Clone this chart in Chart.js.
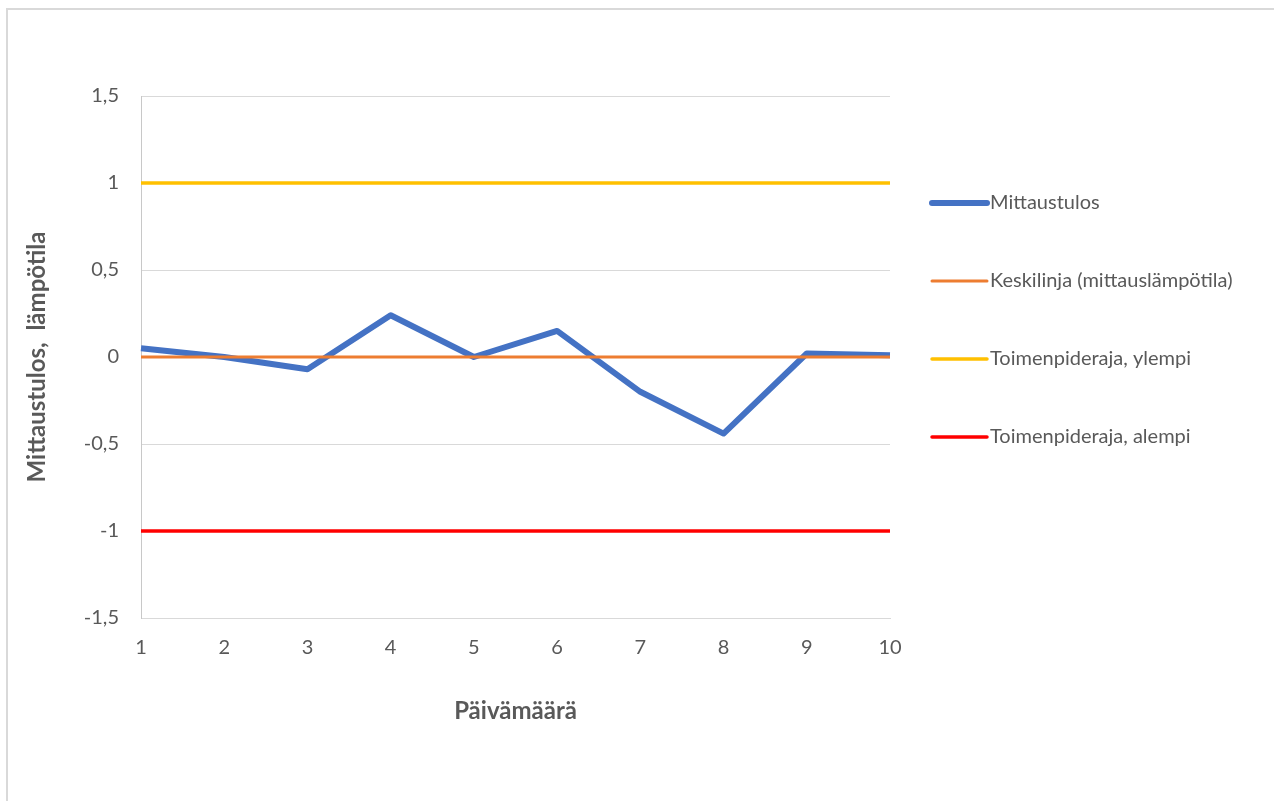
<!DOCTYPE html>
<html>
<head>
<meta charset="utf-8">
<title>Mittaustulos</title>
<script src="https://cdn.jsdelivr.net/npm/chart.js@4.4.0/dist/chart.umd.min.js"></script>
<style>
  html, body { margin: 0; padding: 0; background: #ffffff; }
  #frame {
    position: absolute; left: 6px; top: 8px; width: 1268px; height: 793px;
    border-top: 2px solid #d9d9d9; border-left: 2px solid #d9d9d9; box-sizing: border-box;
  }
  #wrap { position: absolute; left: 0; top: 0; width: 1274px; height: 801px; }
</style>
</head>
<body>
<div id="frame"></div>
<div id="wrap"><canvas id="chart"></canvas></div>
<script>
// Päivät (x-akseli)
const days = ['1', '2', '3', '4', '5', '6', '7', '8', '9', '10'];

// Sarjat
const mittaustulos = [0.05, 0.0, -0.07, 0.24, 0.0, 0.15, -0.2, -0.44, 0.02, 0.01];
const keskilinja   = [0, 0, 0, 0, 0, 0, 0, 0, 0, 0];
const ylempiRaja   = [1, 1, 1, 1, 1, 1, 1, 1, 1, 1];
const alempiRaja   = [-1, -1, -1, -1, -1, -1, -1, -1, -1, -1];

// Y-akselin tekstit (pilkku desimaalierottimena)
const yTickLabels = ['-1,5', '-1', '-0,5', '0', '0,5', '1', '1,5'];

const TEXT = '#595959';
const FONT = 'Lato, "Liberation Sans", sans-serif';

// Selite piirretään itse: viivanäyte + teksti allekkain oikealla
const sideLegend = {
  id: 'sideLegend',
  afterDraw(chart, args, opts) {
    const ctx = chart.ctx;
    ctx.save();
    chart.data.datasets.forEach((ds, i) => {
      const y = opts.top + i * opts.spacing;
      ctx.beginPath();
      ctx.strokeStyle = ds.borderColor;
      ctx.lineWidth = ds.borderWidth;
      ctx.lineCap = 'round';
      ctx.moveTo(opts.left, y);
      ctx.lineTo(opts.left + opts.length, y);
      ctx.stroke();
      ctx.fillStyle = TEXT;
      ctx.font = opts.fontSize + 'px ' + FONT;
      ctx.textBaseline = 'middle';
      ctx.textAlign = 'left';
      ctx.fillText(ds.label, opts.left + opts.length + opts.gap, y);
    });
    ctx.restore();
  }
};

new Chart(document.getElementById('chart'), {
  type: 'line',
  data: {
    labels: days,
    datasets: [
      { label: 'Mittaustulos', data: mittaustulos, borderColor: '#4472C4', borderWidth: 6,
        borderJoinStyle: 'round', borderCapStyle: 'butt', order: 4 },
      { label: 'Keskilinja (mittauslämpötila)', data: keskilinja, borderColor: '#ED7D31', borderWidth: 3, order: 1 },
      { label: 'Toimenpideraja, ylempi', data: ylempiRaja, borderColor: '#FFC000', borderWidth: 3.5, order: 2 },
      { label: 'Toimenpideraja, alempi', data: alempiRaja, borderColor: '#FF0000', borderWidth: 3.5, order: 3 }
    ]
  },
  options: {
    responsive: true,
    maintainAspectRatio: false,
    animation: false,
    elements: { point: { radius: 0, hoverRadius: 0 }, line: { tension: 0 } },
    layout: { padding: { left: 14, top: 96, right: 384, bottom: 63 } },
    plugins: {
      legend: { display: false },
      tooltip: { enabled: false },
      sideLegend: { left: 932, top: 203, spacing: 78, length: 55, gap: 3, fontSize: 20 }
    },
    scales: {
      x: {
        type: 'category',
        offset: false,
        grid: { display: false },
        border: { display: true, color: '#d9d9d9', width: 1 },
        ticks: { color: TEXT, font: { family: FONT, size: 20 }, padding: 10, maxRotation: 0 },
        title: { display: true, text: 'Päivämäärä', color: TEXT,
                 font: { family: FONT, size: 24, weight: 'bold' }, padding: { top: 4, bottom: 12 } },
        afterFit(scale) { scale.height = 120; }
      },
      y: {
        min: -1.5,
        max: 1.5,
        ticks: {
          stepSize: 0.5,
          color: TEXT,
          font: { family: FONT, size: 20 },
          padding: 22,
          callback: (value, index) => yTickLabels[index]
        },
        grid: { color: '#d9d9d9', lineWidth: 1, drawTicks: false },
        border: { display: true, color: '#c8c8c8', width: 1 },
        title: { display: true, text: 'Mittaustulos,  lämpötila', color: TEXT,
                 font: { family: FONT, size: 24, weight: 'bold' }, padding: { top: 9, bottom: 0 } },
        afterFit(scale) { scale.width = 127; }
      }
    }
  },
  plugins: [sideLegend]
});
</script>
</body>
</html>
